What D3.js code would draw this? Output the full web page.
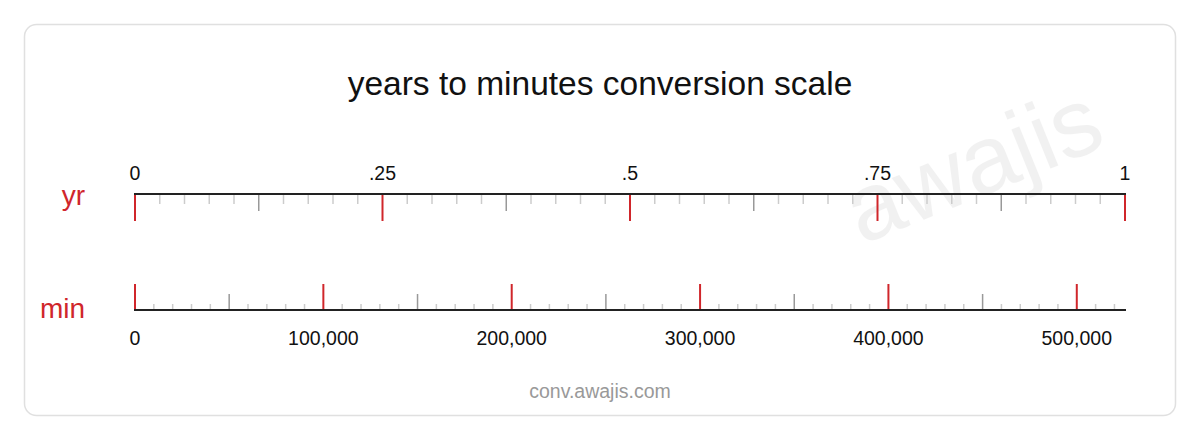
<!DOCTYPE html>
<html><head><meta charset="utf-8">
<script src="https://d3js.org/d3.v7.min.js"></script>
<style>body{margin:0;background:#fff;font-family:"Liberation Sans",Arial,sans-serif}</style>
</head><body><svg id="c" width="1200" height="440"></svg>
<script>
const title = "years to minutes conversion scale";
const minutesPerYear = 525600;
const yrMajor = [0, 0.25, 0.5, 0.75, 1];
const yrLabels = ["0", ".25", ".5", ".75", "1"];
const minMajor = [0, 100000, 200000, 300000, 400000, 500000];
const minLabels = ["0", "100,000", "200,000", "300,000", "400,000", "500,000"];

const svg = d3.select("#c");
svg.append("rect").attr("x",24.5).attr("y",24.5).attr("width",1151).attr("height",391).attr("rx",12)
  .attr("fill","#fff").attr("stroke","#e0e0e0").attr("stroke-width",1.5);
svg.append("text").attr("x",985).attr("y",195).attr("transform","rotate(-22,985,195)")
  .attr("text-anchor","middle").attr("font-size",96).attr("fill","#000").attr("opacity",0.05).text("awajis");
svg.append("text").attr("x",600).attr("y",95).attr("text-anchor","middle").attr("font-size",33.5).attr("fill","#111").text(title);
svg.append("text").attr("x",600).attr("y",398).attr("text-anchor","middle").attr("font-size",19.5).attr("fill","#999").text("conv.awajis.com");

const x0 = 135, x1 = 1125;
const ys = d3.scaleLinear().domain([0,1]).range([x0,x1]);
const ms = d3.scaleLinear().domain([0,minutesPerYear]).range([x0,x1]);

// yr axis
const yAxisY = 194;
svg.append("text").attr("x",85).attr("y",205).attr("text-anchor","end").attr("font-size",28).attr("fill","#d0262b").text("yr");
d3.range(0,41).map(i=>i/40).forEach((v,i)=>{
  let len=10, col="#ccc", w=1.5;
  if(i%10===0){len=27;col="#d0262b";w=2;} else if(i%5===0){len=17;col="#999";}
  svg.append("line").attr("x1",ys(v)).attr("x2",ys(v)).attr("y1",yAxisY).attr("y2",yAxisY+len).attr("stroke",col).attr("stroke-width",w);
});
svg.append("line").attr("x1",x0-1).attr("x2",x1+1).attr("y1",yAxisY).attr("y2",yAxisY).attr("stroke","#222").attr("stroke-width",2);
yrMajor.forEach((v,i)=>svg.append("text").attr("x",ys(v)).attr("y",180).attr("text-anchor","middle").attr("font-size",19.5).attr("fill","#111").text(yrLabels[i]));

// min axis
const mAxisY = 310;
svg.append("text").attr("x",85).attr("y",318).attr("text-anchor","end").attr("font-size",28).attr("fill","#d0262b").text("min");
d3.range(0,53).map(i=>i*10000).forEach((v,i)=>{
  let len=6, col="#ccc", w=1.5;
  if(i%10===0){len=26;col="#d0262b";w=2;} else if(i%5===0){len=16;col="#999";}
  svg.append("line").attr("x1",ms(v)).attr("x2",ms(v)).attr("y1",mAxisY).attr("y2",mAxisY-len).attr("stroke",col).attr("stroke-width",w);
});
svg.append("line").attr("x1",x0-1).attr("x2",x1+1).attr("y1",mAxisY).attr("y2",mAxisY).attr("stroke","#222").attr("stroke-width",2);
minMajor.forEach((v,i)=>svg.append("text").attr("x",ms(v)).attr("y",345).attr("text-anchor","middle").attr("font-size",19.5).attr("fill","#111").text(minLabels[i]));
</script></body></html>
